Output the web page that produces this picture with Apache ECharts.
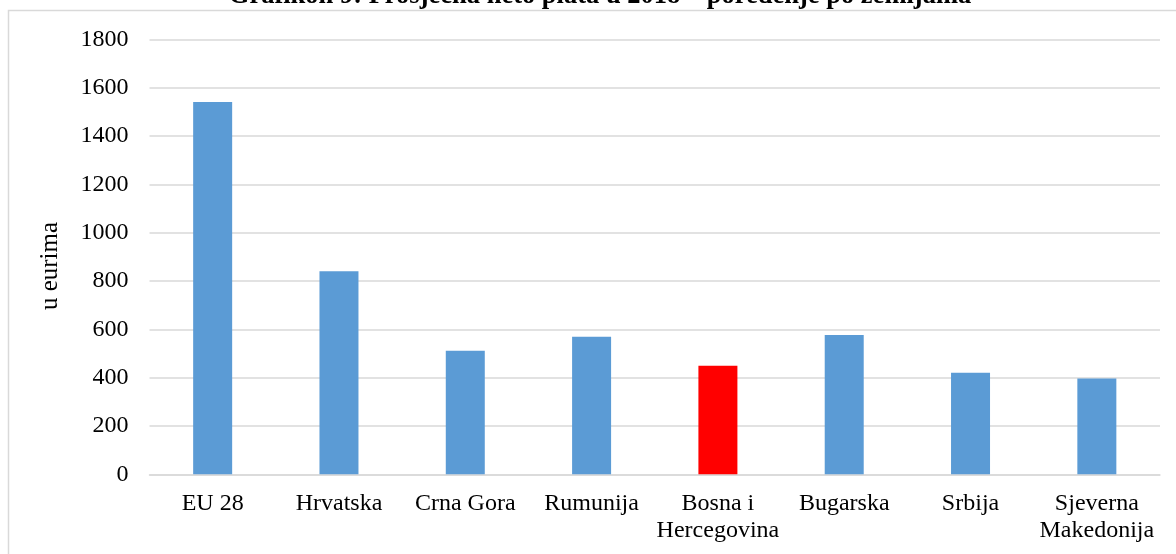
<!DOCTYPE html>
<html>
<head>
<meta charset="utf-8">
<script src="https://cdn.jsdelivr.net/npm/echarts@6/dist/echarts.min.js"></script>
<style>
  html, body { margin: 0; padding: 0; background: #fff; }
  #chart { width: 1176px; height: 554px; }
</style>
</head>
<body>
<div id="chart"></div>
<script>
// Grafikon 9 - prosječna neto plata 2018
const categories = ['EU 28', 'Hrvatska', 'Crna Gora', 'Rumunija', 'Bosna i\nHercegovina', 'Bugarska', 'Srbija', 'Sjeverna\nMakedonija']
const values = [1541, 840, 511, 569, 449, 576, 420, 396]
const highlight = 'Bosna i\nHercegovina'

const serif = '"Liberation Serif", "Times New Roman", serif'
const chart = echarts.init(document.getElementById('chart'))

chart.setOption({
  animation: false,
  title: {
    text: 'Grafikon 9: Prosječna neto plata u 2018 – poređenje po zemljama',
    left: 600,
    top: -17,
    padding: 0,
    textAlign: 'center',
    textStyle: {
      fontFamily: serif,
      fontWeight: 'bold',
      fontSize: 26.5,
      color: '#000'
    }
  },
  graphic: [
    {
      type: 'rect',
      shape: { x: 8.5, y: 10.5, width: 1300, height: 700 },
      style: { fill: 'none', stroke: '#d9d9d9', lineWidth: 1.5 },
      silent: true
    },
    {
      type: 'text',
      x: 50,
      y: 266,
      rotation: Math.PI / 2,
      style: {
        text: 'u eurima',
        font: '25px ' + serif,
        fill: '#000',
        align: 'center',
        verticalAlign: 'middle'
      }
    }
  ],
  grid: {
    left: 149.5,
    right: 16,
    top: 39.3,
    bottom: 79.7,
    containLabel: false
  },
  xAxis: {
    type: 'category',
    data: categories,
    axisTick: { show: false },
    axisLine: { lineStyle: { color: '#d9d9d9', width: 1.5 } },
    axisLabel: {
      margin: 16,
      fontFamily: serif,
      fontSize: 24,
      lineHeight: 27,
      color: '#000',
      interval: 0
    }
  },
  yAxis: {
    type: 'value',
    min: 0,
    max: 1800,
    interval: 200,
    axisLine: { show: false },
    axisTick: { show: false },
    splitLine: { lineStyle: { color: '#d9d9d9', width: 1.5 } },
    axisLabel: {
      margin: 21,
      fontFamily: serif,
      fontSize: 24,
      color: '#000',
      formatter: v => String(v)
    }
  },
  series: [
    {
      type: 'bar',
      barWidth: 39,
      data: values.map((v, i) => ({
        value: v,
        itemStyle: { color: categories[i] === highlight ? '#ff0000' : '#5b9bd5' }
      }))
    }
  ]
})
</script>
</body>
</html>
